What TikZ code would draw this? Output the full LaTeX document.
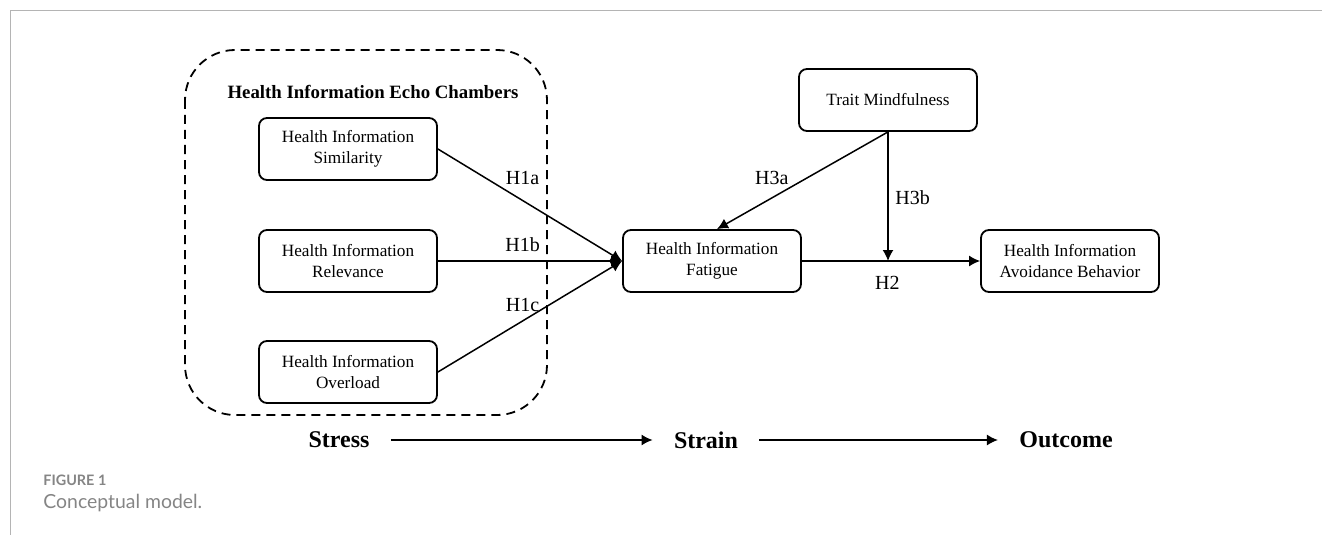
\documentclass[tikz,border=0pt]{standalone}
\usepackage{fontspec}
\setmainfont{Liberation Serif}
\newfontfamily\capfont{Lato}
\usetikzlibrary{positioning,arrows.meta}

\definecolor{capgray}{HTML}{858585}
\definecolor{framegray}{HTML}{B4B4B4}

\tikzstyle{block} = [rectangle, rounded corners=4pt, minimum width=89pt, minimum height=31pt, text centered, align=center, draw=black, line width=0.9pt, font=\fontsize{8.6}{10.5}\selectfont]
\tikzstyle{arrow} = [line width=0.75pt,->,>={Latex[length=5.5pt,width=5.5pt]}]
\tikzstyle{group} = [dashed, dash pattern=on 4.5pt off 3pt, line width=0.9pt, rounded corners=25pt]
\tikzstyle{hyp} = [font=\fontsize{10}{12}\selectfont]
\tikzstyle{stage} = [inner xsep=10.5pt, font=\fontsize{12}{14}\selectfont\bfseries]

\begin{document}
\begin{tikzpicture}[node distance=56pt]
\useasboundingbox (0,0) rectangle (661pt,-267.5pt);
% frame
\draw [framegray, line width=0.5pt] (661pt,-5.5pt) -- (5pt,-5.5pt) -- (5pt,-267.5pt);

% echo chambers
\draw [group] (92.5pt,-25pt) rectangle (273.5pt,-207.5pt);
\node (echo) at (186.5pt,-46pt) [font=\fontsize{9.4}{11}\selectfont\bfseries] {Health Information Echo Chambers};
\node (sim) [block] at (174pt,-74.5pt) {Health Information\\Similarity};
\node (rel) [block, below of=sim] {Health Information\\Relevance};
\node (ovl) [block, below of=rel, yshift=0.5pt] {Health Information\\Overload};

% strain, moderator, outcome
\node (fat) [block, right of=rel, xshift=126pt] {Health Information\\Fatigue};
\node (avoid) [block, right of=fat, xshift=123pt] {Health Information\\Avoidance Behavior};
\node (trait) [block, above of=fat, xshift=88pt, yshift=24.5pt] {Trait Mindfulness};
\coordinate (h3b) at (trait.south |- fat.east);

\draw [arrow] (sim.east) --node[hyp, pos=0.46, above, yshift=4pt] {H1a} (fat.west);
\draw [arrow] (rel.east) --node[hyp, pos=0.46, above, yshift=1pt] {H1b} (fat.west);
\draw [arrow] (ovl.east) --node[hyp, pos=0.46, above, yshift=1pt] {H1c} (fat.west);
\draw [arrow] (fat.east) --node[hyp, pos=0.48, below, yshift=-4pt] {H2} (avoid.west);
\draw [arrow] (trait.south) --node[hyp, pos=0.68, above, yshift=3pt] {H3a} ([xshift=2.5pt]fat.north);
\draw [arrow] (trait.south) --node[hyp, pos=0.51, right] {H3b} (h3b);

% stages
\node (stress) [stage] at (169.5pt,-220pt) {Stress};
\node (strain) [stage, below of=fat, xshift=-3pt, yshift=-33.5pt] {Strain};
\node (outcome) [stage, below of=avoid, xshift=-2pt, yshift=-33.5pt] {Outcome};
\draw [arrow] (stress) -- (strain);
\draw [arrow] (strain) -- (outcome);

% caption
\node (fig) [anchor=base west, inner sep=0pt, text=capgray, font=\capfont\fontsize{7.2}{8}\selectfont\bfseries] at (21.5pt,-242.5pt) {FIGURE 1};
\node (cap) [anchor=base west, inner sep=0pt, text=capgray, font=\capfont\fontsize{9.7}{11}\selectfont] at (21.5pt,-254pt) {Conceptual model.};
\end{tikzpicture}
\end{document}
